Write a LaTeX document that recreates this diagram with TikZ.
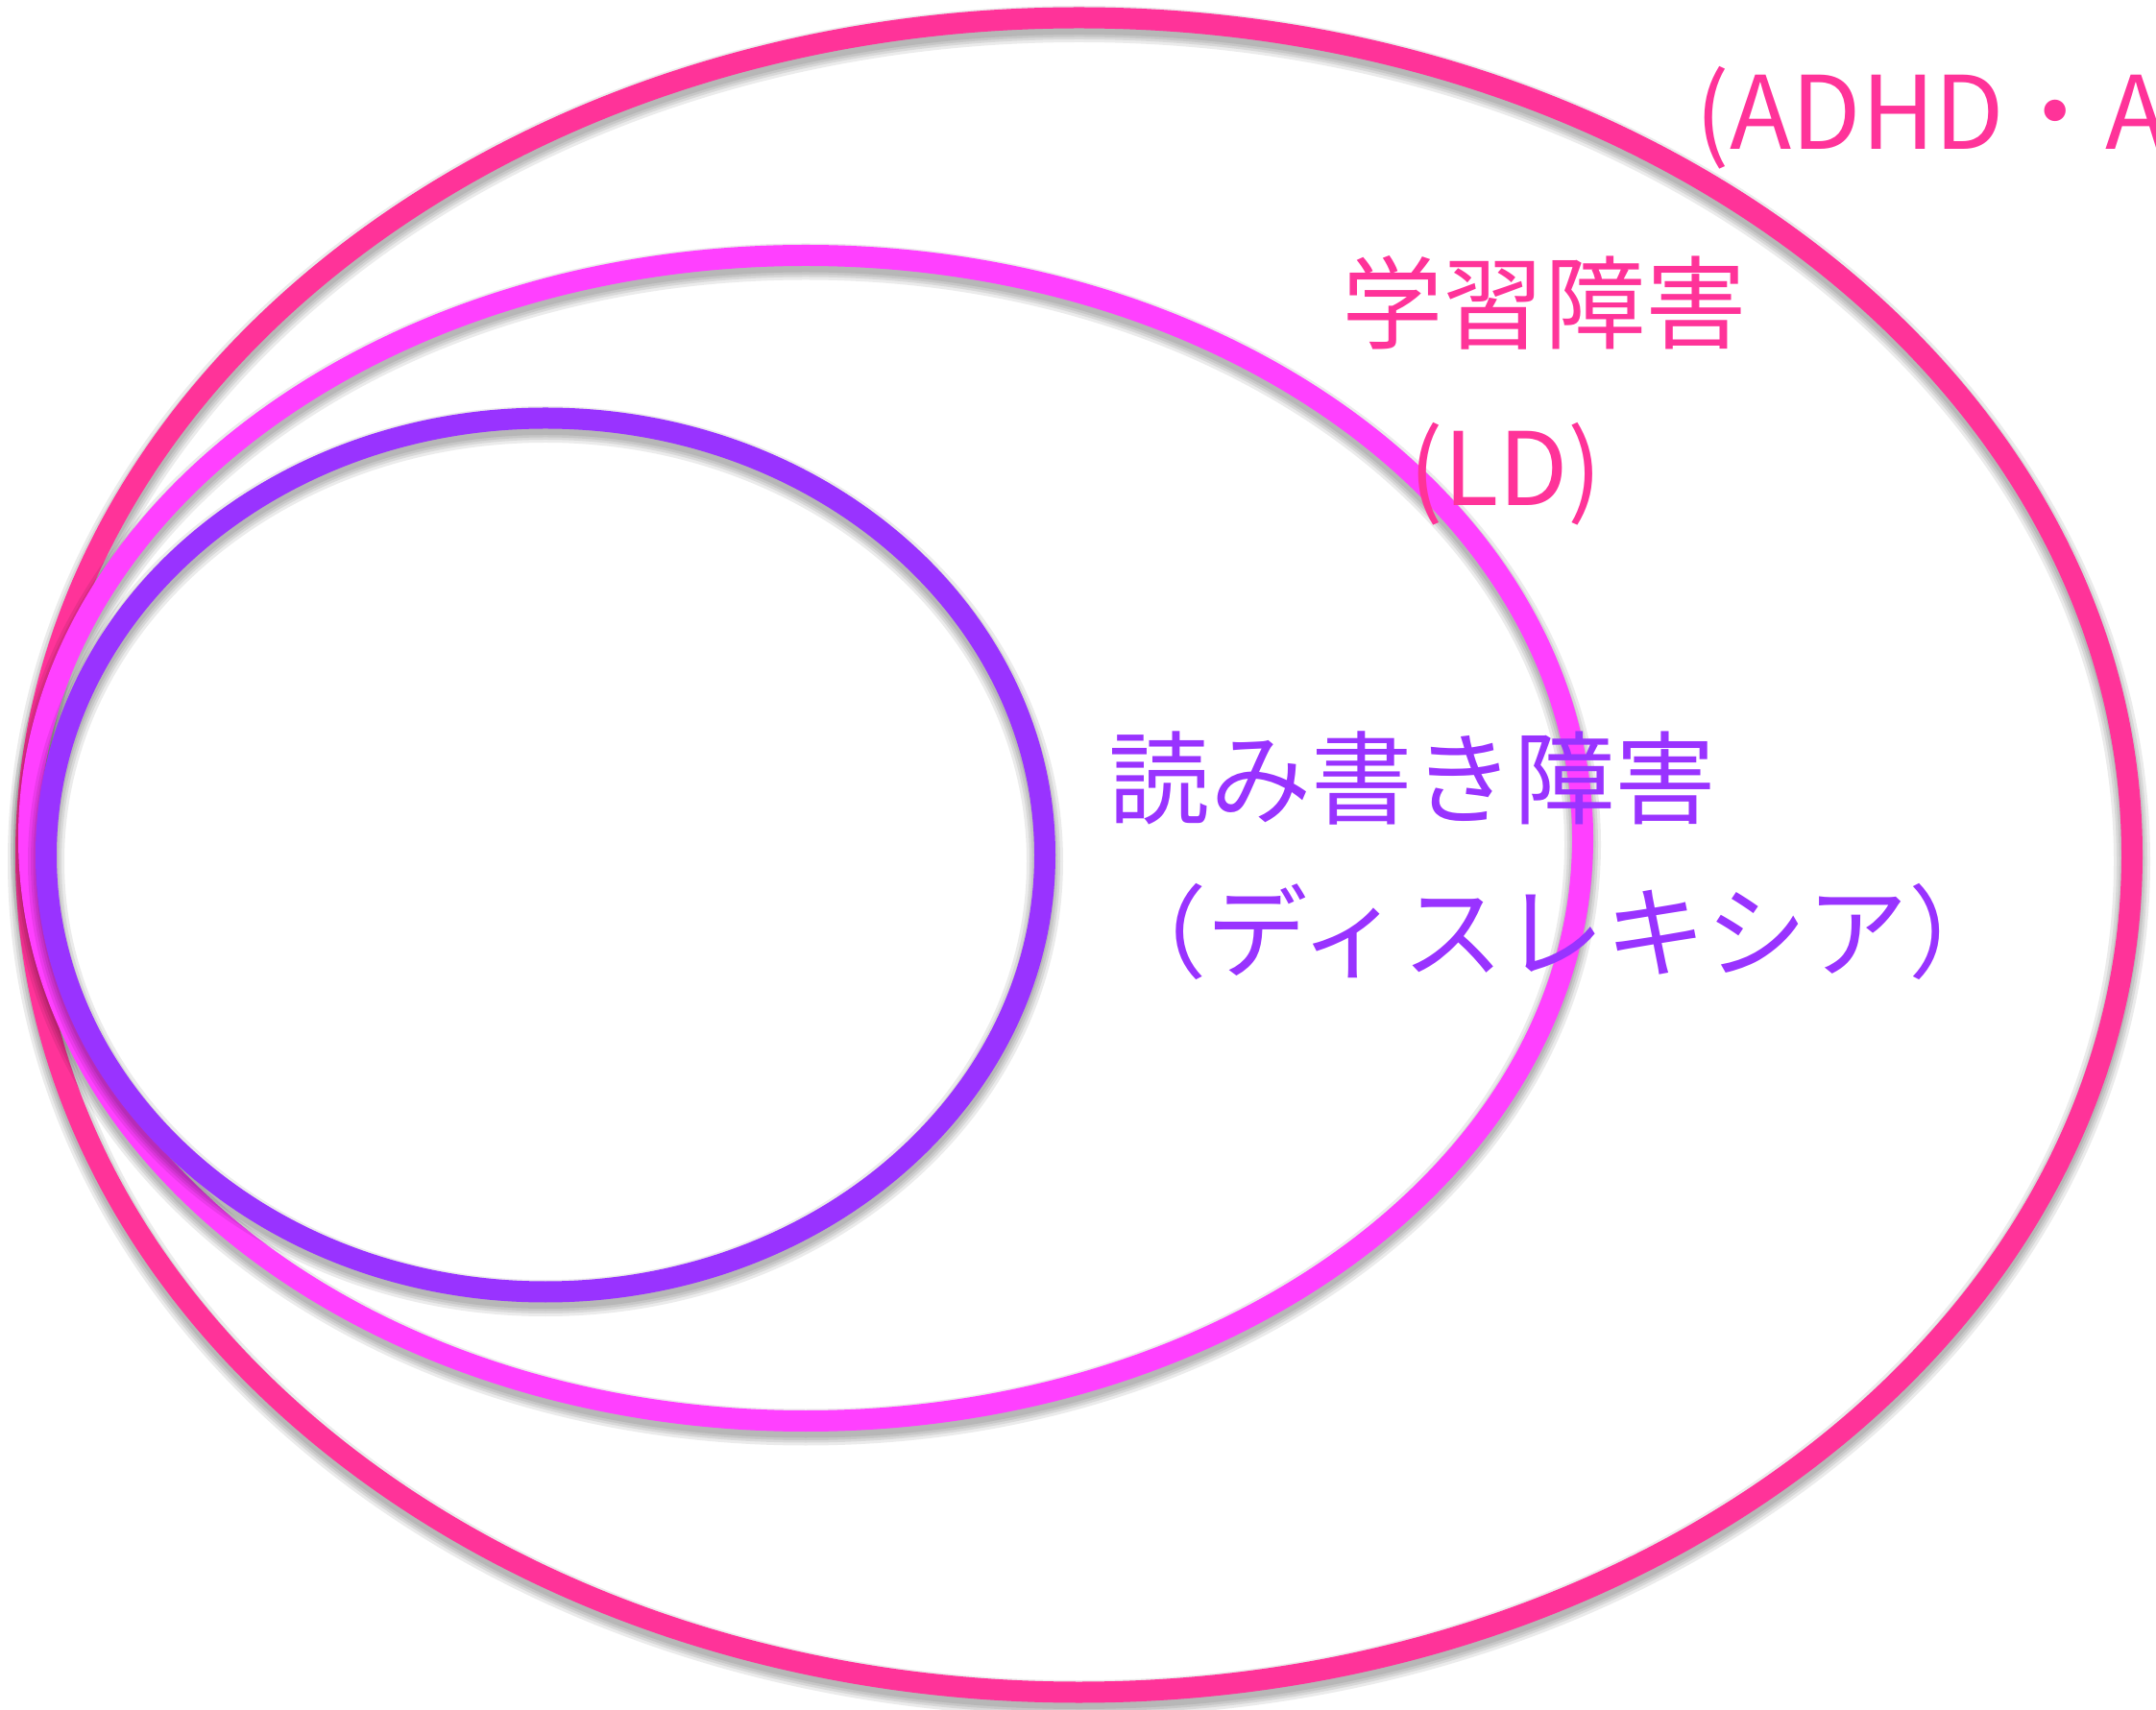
\documentclass[tikz,border=0pt]{standalone}
\usepackage{fontspec}
\setmainfont{Noto Sans CJK JP}
\usepackage{xcolor}
\definecolor{devpink}{HTML}{FF3399}
\definecolor{ldmagenta}{HTML}{FF40FF}
\definecolor{dyspurple}{HTML}{9933FF}
\usetikzlibrary{positioning}

\begin{document}
\begin{tikzpicture}[
    ring/.style = {line width = 0.22cm},
    ringshadow/.style = {black, opacity = 0.08},
    tag/.style = {inner sep = 0pt, font = \fontsize{30}{36}\selectfont}
  ]
  \def\W{22.45}
  \def\H{17.80}
  \useasboundingbox (0,0) rectangle (\W,\H);
  \clip (0,0) rectangle (\W,\H);
  \fill[white] (0,0) rectangle (\W,\H);

  % outer ring
  \foreach \w in {0.22,0.27,0.32,0.38}
    \draw[ringshadow, line width = \w cm] (11.235,8.83) ellipse [x radius = 10.965, y radius = 8.72];
  \draw[ring, devpink] (11.235,8.895) ellipse [x radius = 10.965, y radius = 8.72];

  % LD ring
  \foreach \w in {0.22,0.27,0.32,0.38}
    \draw[ringshadow, line width = \w cm] (8.39,9.005) ellipse [x radius = 8.09, y radius = 6.07];
  \draw[ring, ldmagenta] (8.39,9.07) ellipse [x radius = 8.09, y radius = 6.07];

  % dyslexia ring
  \foreach \w in {0.22,0.27,0.32,0.38}
    \draw[ringshadow, line width = \w cm] (5.68,8.83) ellipse [x radius = 5.20, y radius = 4.55];
  \draw[ring, dyspurple] (5.68,8.895) ellipse [x radius = 5.20, y radius = 4.55];

  % labels
  \node (devtop) [tag, text = devpink, anchor = base west] at (16.90,17.94) {発達障害};
  \node (adhd) [tag, text = devpink, anchor = west] at (17.65,16.57) {(ADHD・A};
  \node (ld) [tag, text = devpink] at (16.08,14.65) {学習障害};
  \node (ldabbr) [tag, text = devpink] at (15.68,12.86) {(LD)};
  \node (dys) [tag, text = dyspurple] at (14.71,9.70) {読み書き障害};
  \node (dysname) [tag, text = dyspurple] at (16.22,8.10) {（ディスレキシア）};
\end{tikzpicture}
\end{document}
